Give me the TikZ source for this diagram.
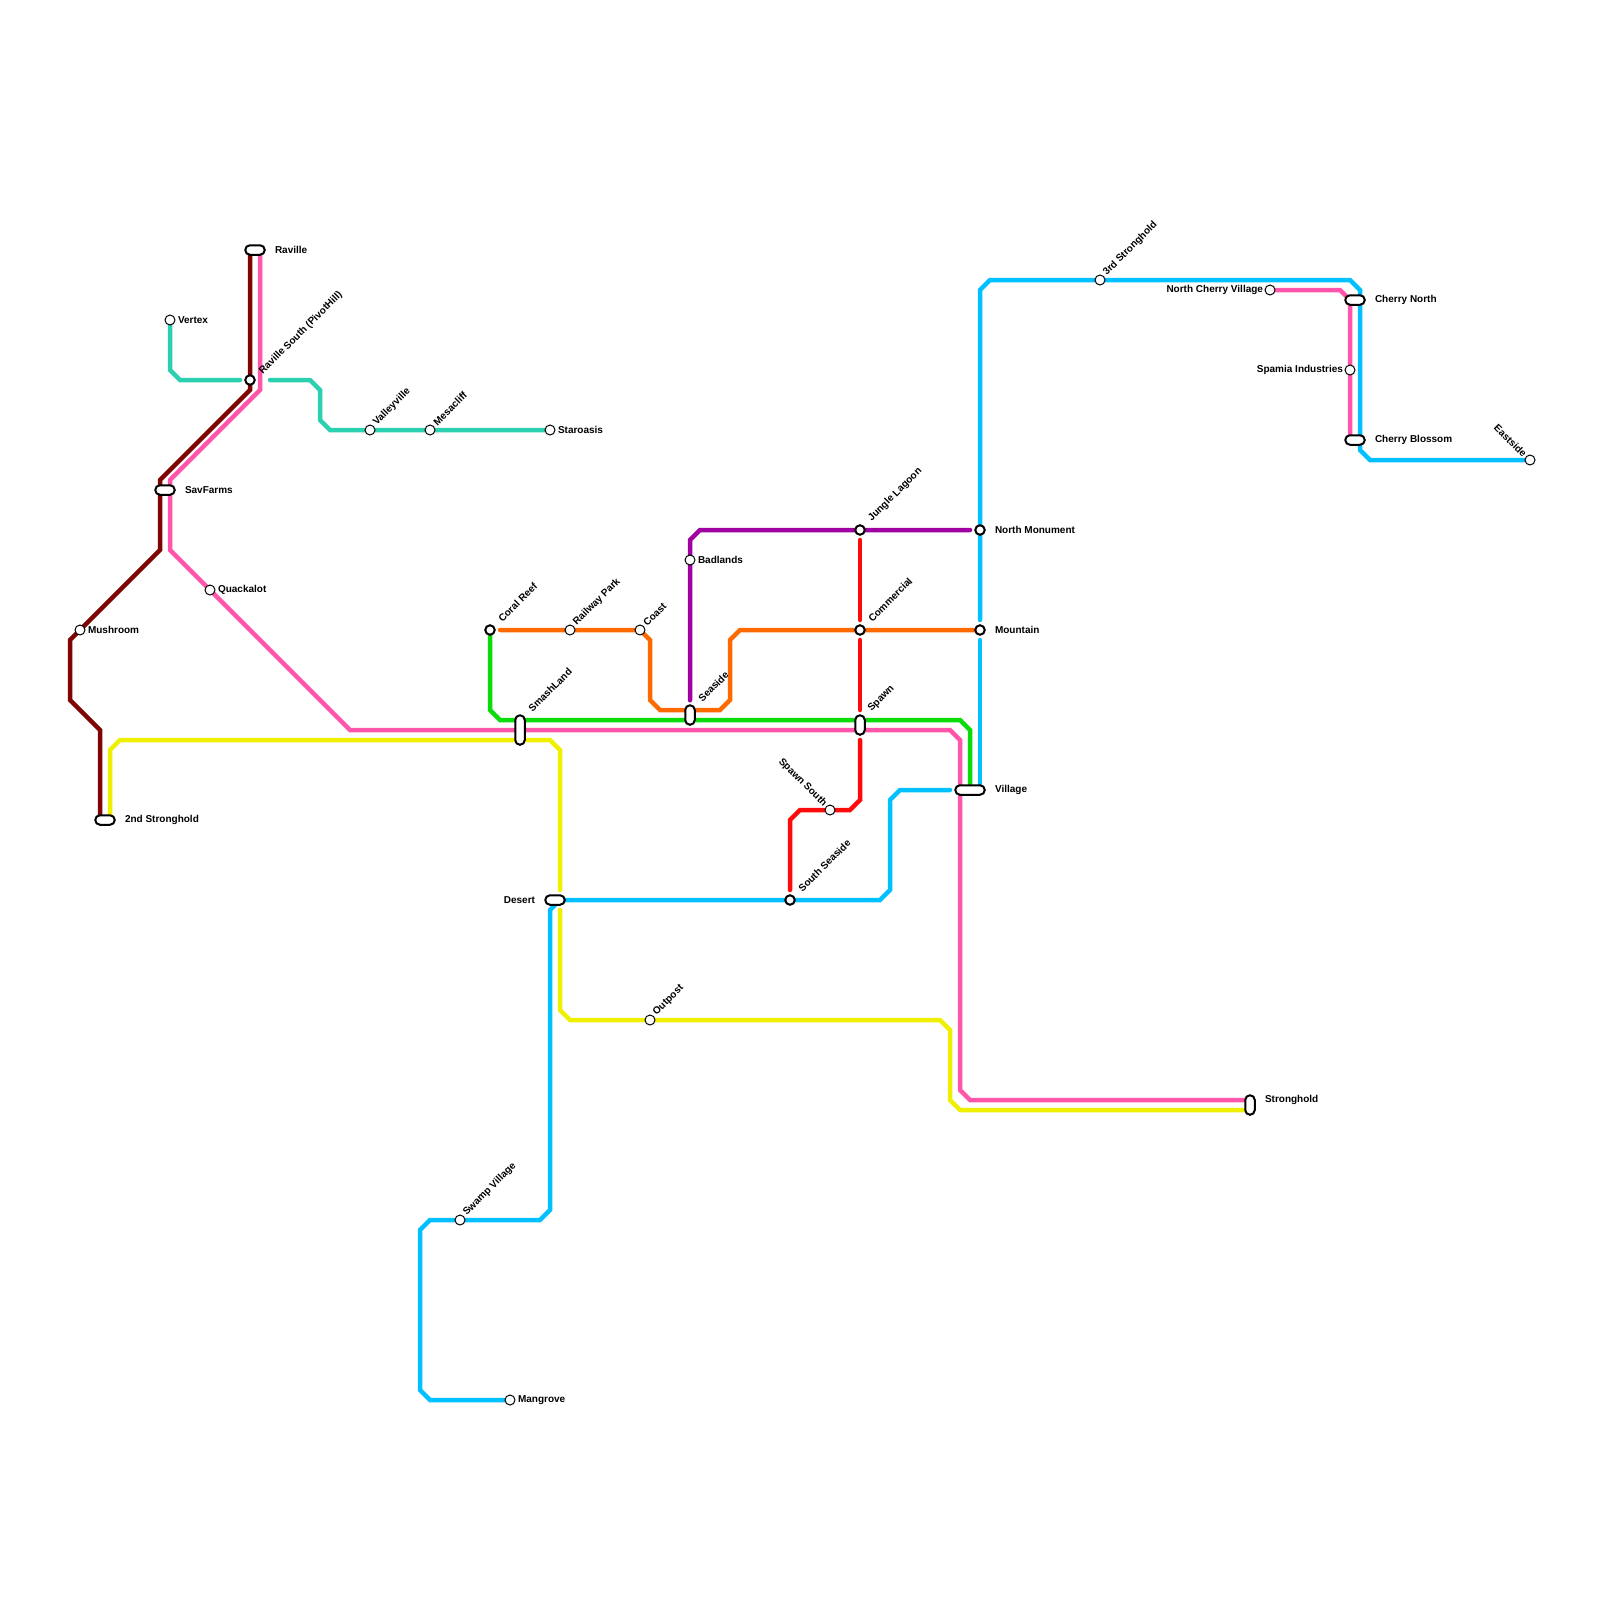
\documentclass[tikz,border=0pt]{standalone}
\usepackage{fontspec}
\setmainfont{Liberation Sans}
\usetikzlibrary{backgrounds}
\definecolor{cMaroon}{HTML}{7F0505}
\definecolor{cPink}{HTML}{FF55AA}
\definecolor{cTeal}{HTML}{2AD0B0}
\definecolor{cOrange}{HTML}{FF6A00}
\definecolor{cGreen}{HTML}{0ADC0A}
\definecolor{cYellow}{HTML}{EEF000}
\definecolor{cRed}{HTML}{FF0A0A}
\definecolor{cPurple}{HTML}{A000A0}
\definecolor{cBlue}{HTML}{00C0FF}
\tikzset{
  route/.style={line width=4.5pt,line cap=round,line join=miter},
  thinstop/.style={circle,draw=black,fill=white,line width=1pt,minimum size=10pt,inner sep=0pt,outer sep=0pt},
  boldstop/.style={circle,draw=black,fill=white,line width=2pt,minimum size=9.5pt,inner sep=0pt,outer sep=0pt},
  hcap/.style={rectangle,draw=black,fill=white,line width=2pt,rounded corners=4.7pt,minimum width=#1,minimum height=9.5pt,inner sep=0pt,outer sep=0pt},
  vcap/.style={rectangle,draw=black,fill=white,line width=2pt,rounded corners=4.7pt,minimum height=#1,minimum width=9.5pt,inner sep=0pt,outer sep=0pt},
  lab/.style={font=\bfseries\fontsize{10}{12}\selectfont,inner sep=0pt,outer sep=0pt,text=black},
  labE/.style={lab,anchor=west},
  labW/.style={lab,anchor=east},
  labNE/.style={lab,anchor=west,rotate=45},
  labNW/.style={lab,anchor=east,rotate=-45},
}
\begin{document}
\begin{tikzpicture}[x=1pt,y=-1pt]
\useasboundingbox (0,0) rectangle (1600,1600);
% stations
\node[hcap=19.5pt] (raville) at (255,250) {};
\node[boldstop] (ravsouth) at (250,380) {};
\node[thinstop] (vertex) at (170,320) {};
\node[thinstop] (valley) at (370,430) {};
\node[thinstop] (mesa) at (430,430) {};
\node[thinstop] (staro) at (550,430) {};
\node[hcap=19.5pt] (savfarms) at (165,490) {};
\node[thinstop] (quack) at (210,590) {};
\node[thinstop] (mushroom) at (80,630) {};
\node[hcap=19.5pt] (second) at (105,820) {};
\node[boldstop] (coral) at (490,630) {};
\node[thinstop] (railway) at (570,630) {};
\node[thinstop] (coast) at (640,630) {};
\node[vcap=29.5pt] (smash) at (520,730) {};
\node[vcap=19.5pt] (seaside) at (690,715) {};
\node[thinstop] (badlands) at (690,560) {};
\node[boldstop] (jungle) at (860,530) {};
\node[boldstop] (commercial) at (860,630) {};
\node[vcap=19.5pt] (spawn) at (860,725) {};
\node[thinstop] (spawnsouth) at (830,810) {};
\node[boldstop] (southsea) at (790,900) {};
\node[boldstop] (northmon) at (980,530) {};
\node[boldstop] (mountain) at (980,630) {};
\node[hcap=29.5pt] (village) at (970,790) {};
\node[hcap=19.5pt] (desert) at (555,900) {};
\node[thinstop] (outpost) at (650,1020) {};
\node[thinstop] (swamp) at (460,1220) {};
\node[thinstop] (mangrove) at (510,1400) {};
\node[vcap=19.5pt] (stronghold) at (1250,1105) {};
\node[thinstop] (third) at (1100,280) {};
\node[thinstop] (ncv) at (1270,290) {};
\node[hcap=19.5pt] (cherryn) at (1355,300) {};
\node[thinstop] (spamia) at (1350,370) {};
\node[hcap=19.5pt] (cherryb) at (1355,440) {};
\node[thinstop] (eastside) at (1530,460) {};
% ports on wide stations
\coordinate (ravilleL) at (250,250);
\coordinate (ravilleR) at (260,250);
\coordinate (secondL) at (100,820);
\coordinate (secondR) at (110,820);
\coordinate (savL) at (160,490);
\coordinate (savR) at (170,490);
\coordinate (strongA) at (1250,1100);
\coordinate (strongB) at (1250,1110);
\coordinate (villageG) at (970,790);
\coordinate (villageB) at (980,790);
\coordinate (cnL) at (1350,300);
\coordinate (cnR) at (1360,300);
\coordinate (cbL) at (1350,440);
\coordinate (cbR) at (1360,440);
\coordinate (desertY) at (560,900);
\coordinate (spawnT) at (860,715);
\coordinate (spawnB) at (860,735);
\begin{scope}[on background layer]
\fill[white] (0,0) rectangle (1600,1600);
% maroon
\draw[route,cMaroon] (ravilleL) -- (250,390) -- (160,480) -- (savL) -- (160,550) -- (mushroom.center) -- (70,640) -- (70,700) -- (100,730) -- (secondL);
% pink
\draw[route,cPink] (ravilleR) -- (260,390) -- (170,480) -- (savR) -- (170,550) -- (quack.center) -- (350,730) -- (smash.center) -- (spawn.center |- smash.center) -- (950,730) -- (960,740) -- (960,1090) -- (970,1100) -- (strongA);
\draw[route,cPink] (ncv.center) -- (1340,290) -- (cnL) -- (spamia.center) -- (cbL);
% teal
\draw[route,cTeal,shorten >=10pt] (vertex.center) -- (170,370) -- (180,380) -- (ravsouth.center);
\draw[route,cTeal,shorten <=20pt] (ravsouth.center) -- (310,380) -- (320,390) -- (320,420) -- (330,430) -- (valley.center) -- (mesa.center) -- (staro.center);
% yellow
\draw[route,cYellow] (secondR) -- (110,750) -- (120,740) -- (550,740) -- (560,750) -- (560,890);
\draw[route,cYellow] (560,910) -- (560,1010) -- (570,1020) -- (outpost.center) -- (940,1020) -- (950,1030) -- (950,1100) -- (960,1110) -- (strongB);
% green
\draw[route,cGreen] (coral.center) -- (490,710) -- (500,720) -- (960,720) -- (970,730) -- (villageG);
% orange
\draw[route,cOrange,shorten <=10pt] (coral.center) -- (railway.center) -- (coast.center) -- (650,640) -- (650,700) -- (660,710) -- (720,710) -- (730,700) -- (730,640) -- (740,630) -- (commercial.center) -- (mountain.center);
% purple
\draw[route,cPurple,shorten <=5pt,shorten >=10pt] (seaside.north) -- (690,540) -- (700,530) -- (jungle.center) -- (northmon.center);
% red
\draw[route,cRed,shorten <=10pt,shorten >=10pt] (jungle.center) -- (commercial.center);
\draw[route,cRed,shorten <=10pt,shorten >=5pt] (commercial.center) -- (spawnT);
\draw[route,cRed,shorten <=5pt,shorten >=10pt] (spawnB) -- (860,800) -- (850,810) -- (spawnsouth.center) -- (800,810) -- (790,820) -- (southsea.center);
% blue
\draw[route,cBlue,shorten >=10pt] (villageB) -- (mountain.center);
\draw[route,cBlue,shorten <=10pt] (mountain.center) -- (northmon.center) -- (980,290) -- (990,280) -- (third.center) -- (1350,280) -- (1360,290) -- (cnR) -- (cbR) -- (1360,450) -- (1370,460) -- (eastside.center);
\draw[route,cBlue,shorten <=20pt] (village.center) -- (900,790) -- (890,800) -- (890,890) -- (880,900) -- (southsea.center) -- (desertY) -- (550,910) -- (550,1210) -- (540,1220) -- (swamp.center) -- (430,1220) -- (420,1230) -- (420,1390) -- (430,1400) -- (mangrove.center);
\end{scope}
% labels
\node[labE] (lRaville) at (275,250) {Raville};
\node[labE] (lVertex) at (178,320) {Vertex};
\node[labNE] (lRavSouth) at (261,373) {Raville South (PivotHill)};
\node[labNE] (lValley) at (375,424) {Valleyville};
\node[labNE] (lMesa) at (435,424) {Mesacliff};
\node[labE] (lStaro) at (558,430) {Staroasis};
\node[labE] (lSav) at (185,490) {SavFarms};
\node[labE] (lQuack) at (218,590) {Quackalot};
\node[labE] (lMush) at (88,630) {Mushroom};
\node[labE] (lSecond) at (125,820) {2nd Stronghold};
\node[labNE] (lCoral) at (500,620) {Coral Reef};
\node[labNE] (lRail) at (575,624) {Railway Park};
\node[labNE] (lCoast) at (645,624) {Coast};
\node[labNE] (lSmash) at (530,710) {SmashLand};
\node[labNE] (lSeaside) at (700,700) {Seaside};
\node[labE] (lBad) at (698,560) {Badlands};
\node[labNE] (lJungle) at (870,520) {Jungle Lagoon};
\node[labNE] (lComm) at (870,620) {Commercial};
\node[labNE] (lSpawn) at (870,710) {Spawn};
\node[labNW] (lSpawnS) at (825,805) {Spawn South};
\node[labNE] (lSouthSea) at (800,890) {South Seaside};
\node[labE] (lNorthMon) at (995,530) {North Monument};
\node[labE] (lMountain) at (995,630) {Mountain};
\node[labE] (lVillage) at (995,790) {Village};
\node[labW] (lDesert) at (535,900) {Desert};
\node[labNE] (lOutpost) at (655,1014) {Outpost};
\node[labNE] (lSwamp) at (465,1214) {Swamp Village};
\node[labE] (lMangrove) at (518,1400) {Mangrove};
\node[labE] (lStrong) at (1265,1100) {Stronghold};
\node[labNE] (lThird) at (1105,274) {3rd Stronghold};
\node[labW] (lNcv) at (1263,290) {North Cherry Village};
\node[labE] (lCN) at (1375,300) {Cherry North};
\node[labW] (lSpamia) at (1343,370) {Spamia Industries};
\node[labE] (lCB) at (1375,440) {Cherry Blossom};
\node[labNW] (lEast) at (1525,455) {Eastside};
\end{tikzpicture}
\end{document}
